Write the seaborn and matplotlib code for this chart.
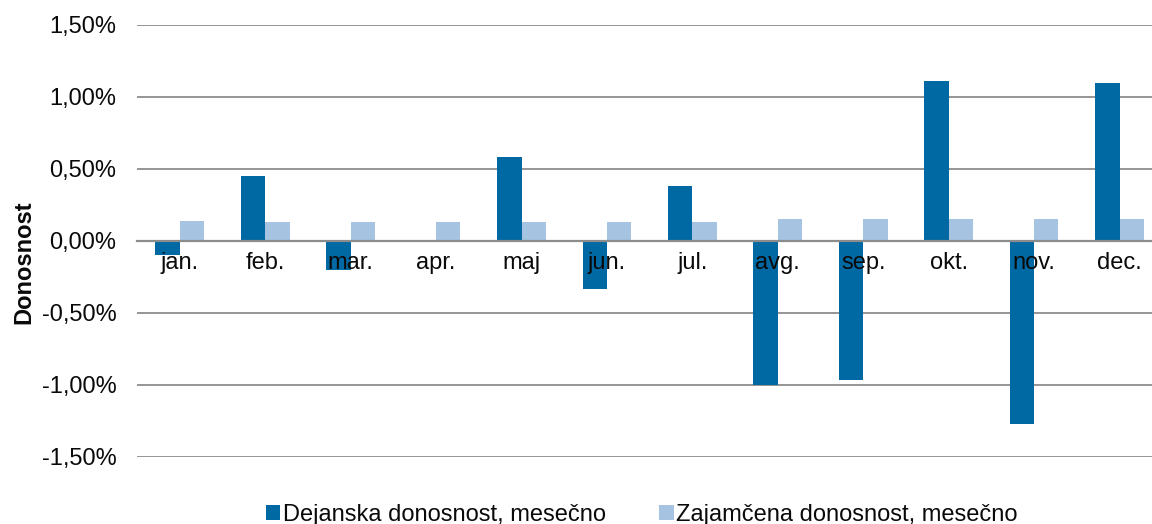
import numpy as np
import pandas as pd
import matplotlib
matplotlib.use("Agg")
import matplotlib.pyplot as plt
import seaborn as sns
from matplotlib.ticker import FuncFormatter, FixedLocator

months = ["jan.", "feb.", "mar.", "apr.", "maj", "jun.", "jul.", "avg.", "sep.", "okt.", "nov.", "dec."]
dejanska = [-0.10, 0.45, -0.20, 0.01, 0.58, -0.33, 0.38, -1.00, -0.965, 1.11, -1.27, 1.10]
zajamcena = [0.14, 0.13, 0.13, 0.13, 0.13, 0.13, 0.13, 0.15, 0.15, 0.15, 0.15, 0.15]
series_names = ["Dejanska donosnost, mesečno", "Zajamčena donosnost, mesečno"]
y_ticks = [-1.5, -1.0, -0.5, 0.0, 0.5, 1.0, 1.5]

sns.set_style("white")
plt.rcParams["font.family"] = ["Liberation Sans", "DejaVu Sans"]

df = pd.DataFrame({
    "month": months * 2,
    "value": dejanska + zajamcena,
    "series": [series_names[0]] * 12 + [series_names[1]] * 12,
})

fig = plt.figure(figsize=(11.52, 5.24), dpi=100)
ax = fig.add_axes([0.119, 0.1279, 0.881, 0.8244])

sns.barplot(
    data=df, x="month", y="value", hue="series", order=months,
    palette=["#0069a3", "#a6c4e1"], saturation=1, width=0.57, gap=0,
    edgecolor="none", ax=ax,
)

ax.set_ylim(-1.5, 1.5)
ax.set_xlim(-0.5, 11.38)

# gridlines behind bars
ax.hlines([t for t in y_ticks if t != 0], -0.5, 12, color="#8c8c8c", lw=1.3, zorder=0)

for s in ["top", "right", "left"]:
    ax.spines[s].set_visible(False)
ax.spines["bottom"].set_position(("data", 0))
ax.spines["bottom"].set_color("#8c8c8c")
ax.spines["bottom"].set_linewidth(1.6)
ax.spines["bottom"].set_zorder(3)
ax.xaxis.set_zorder(4)

ax.yaxis.set_major_locator(FixedLocator(y_ticks))
ax.yaxis.set_major_formatter(FuncFormatter(lambda v, p: f"{v:.2f}%".replace(".", ",")))
ax.tick_params(axis="y", length=0, pad=15, labelsize=17, colors="#0a0a0a")

ax.set_xticks(range(12))
ax.set_xticklabels(months)
ax.tick_params(axis="x", which="major", length=0, pad=8, labelsize=17, colors="#0a0a0a")
ax.xaxis.set_minor_locator(FixedLocator(np.arange(-0.5, 12, 1.0)))
ax.tick_params(axis="x", which="minor", length=6, width=1.4, color="#8c8c8c", direction="out")

ax.set_xlabel("")
ax.set_ylabel("Donosnost", fontsize=17, fontweight="bold", color="#0a0a0a")
ax.yaxis.set_label_coords(-0.1, 0.451)

ax.legend(
    loc="center", bbox_to_anchor=(0.557, 0.018), bbox_transform=fig.transFigure,
    ncol=2, frameon=False, fontsize=17, handlelength=0.62, handleheight=0.62,
    handletextpad=0.1, columnspacing=2.27, borderaxespad=0, borderpad=0,
    labelcolor="#0a0a0a",
)

fig.savefig("out.png", dpi=100)
